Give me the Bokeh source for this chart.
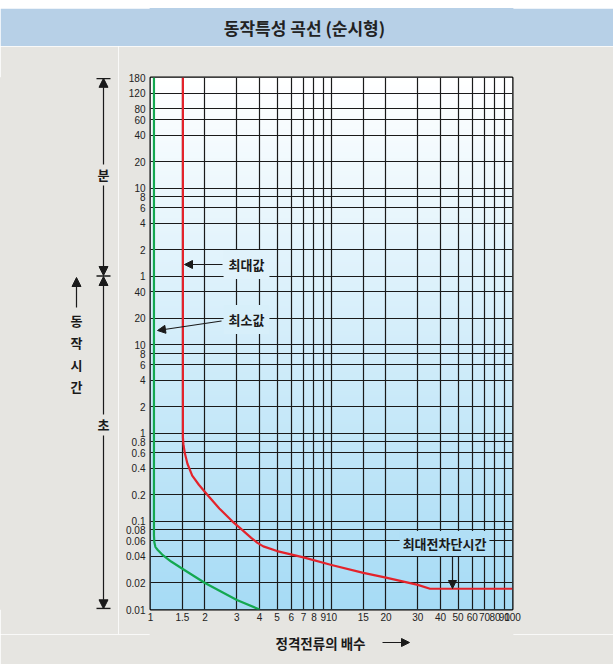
import math
import numpy as np
from bokeh.plotting import figure
from bokeh.models import Range1d, FixedTicker, Label, Arrow, NormalHead, Spacer
from bokeh.layouts import column, row
from bokeh.core.properties import value
from bokeh.embed import file_html
from bokeh.resources import INLINE

# ---------------- data ----------------
TITLE = "동작특성 곡선 (순시형)"
X_LABEL = "정격전류의 배수"
MIN_LABEL = "분"
SEC_LABEL = "초"
TIME_LABEL = "동작시간"

x_ticks = [1, 1.5, 2, 3, 4, 5, 6, 7, 8, 9, 10, 15, 20, 30, 40, 50, 60, 70, 80, 90, 100]
x_tick_labels = ["1", "1.5", "2", "3", "4", "5", "6", "7", "8", "9", "10", "15", "20",
                 "30", "40", "50", "60", "70", "80", "90", "100"]

# seconds ticks and minute ticks (the y axis is time in seconds)
y_ticks_sec = [0.01, 0.02, 0.04, 0.06, 0.08, 0.1, 0.2, 0.4, 0.6, 0.8, 1, 2, 4, 6, 8, 10, 20, 40]
y_labels_sec = ["0.01", "0.02", "0.04", "0.06", "0.08", "0.1", "0.2", "0.4", "0.6", "0.8",
                "1", "2", "4", "6", "8", "10", "20", "40"]
y_ticks_min = [1, 2, 4, 6, 8, 10, 20, 40, 60, 80, 120, 180]
y_labels_min = ["1", "2", "4", "6", "8", "10", "20", "40", "60", "80", "120", "180"]

# maximum curve (red)
max_x = [1.51, 1.51, 1.52, 1.546, 1.6, 1.7, 1.85, 2.06, 2.4, 2.83, 3.21, 3.6, 3.9, 4.2,
         5.0, 7.0, 10, 15, 20, 30, 35, 100]
max_y = [10800, 0.9, 0.75, 0.6, 0.45, 0.33, 0.26, 0.2, 0.14, 0.1, 0.08, 0.065, 0.057, 0.052,
         0.046, 0.039, 0.032, 0.026, 0.023, 0.019, 0.0172, 0.0172]

# minimum curve (green)
min_x = [1.045, 1.045, 1.05, 1.065, 1.1, 1.16, 1.3, 1.5, 2.0, 3.0, 4.0]
min_y = [10800, 0.07, 0.058, 0.051, 0.047, 0.042, 0.035, 0.029, 0.02, 0.0128, 0.01]

# ---------------- style ----------------
KR = "Noto Sans CJK KR"
NUM = "Liberation Sans"
BAND = "#b7d0e7"
GRAY = "#e6e5e1"
INK = "#1a1a1a"
TOP_RGB = (255, 255, 255)
BOT_RGB = (166, 219, 245)

X_MIN, X_MAX = 1, 100
Y_MIN, Y_MAX = 0.01, 10800

W, H = 613, 664
# page geometry (page pixels)
BAND_TOP, BAND_BOT = 8, 46
FL, FR, FT, FB = 150, 512, 77, 609
LEFT_W = 118
CAP_H = 30
LOGSPAN_Y = math.log10(Y_MAX / Y_MIN)


def xd(px):
    return 10 ** ((px - FL) / (FR - FL) * math.log10(X_MAX / X_MIN))


def yd(py):
    return 10 ** (math.log10(Y_MIN) + (FB - py) / (FB - FT) * LOGSPAN_Y)


def grad_hex(py):
    t = min(max((py - FT) / (FB - FT), 0), 1)
    c = [round(TOP_RGB[i] * (1 - t) + BOT_RGB[i] * t) for i in range(3)]
    return "#%02x%02x%02x" % tuple(c)


def head(size=8):
    return NormalHead(size=size, fill_color=INK, line_color=INK)


def bare(fig):
    fig.grid.visible = False
    return fig


# ---------------- title band ----------------
top = figure(width=W, height=BAND_BOT - BAND_TOP, x_range=Range1d(FL, FR), y_range=Range1d(0, 1),
             output_backend="svg", toolbar_location=None,
             min_border_left=FL, min_border_right=W - FR, min_border_top=0, min_border_bottom=0,
             x_axis_location=None, y_axis_location=None,
             background_fill_color=BAND, border_fill_color=BAND,
             outline_line_color=BAND, outline_line_width=2)
bare(top)
top.text(x=[304], y=[0.5], text=[TITLE], text_align="center", text_baseline="middle",
         text_font=value(KR), text_font_size="17px", text_font_style="bold", text_color="#222222")

# ---------------- left margin (time ranges) ----------------
ROW_H = H - BAND_BOT - CAP_H
left = figure(width=LEFT_W, height=ROW_H, x_range=Range1d(0, LEFT_W), y_range=Range1d(FB, FT),
              output_backend="svg", toolbar_location=None,
              min_border_left=0, min_border_right=0,
              min_border_top=FT - BAND_BOT, min_border_bottom=BAND_BOT + ROW_H - FB,
              x_axis_location=None, y_axis_location=None,
              background_fill_color=GRAY, border_fill_color=GRAY,
              outline_line_color=GRAY, outline_line_width=1)
bare(left)


def larrow(x0, y0, x1, y1, size=9):
    left.add_layout(Arrow(x_start=x0, y_start=y0, x_end=x1, y_end=y1, end=head(size),
                          line_color=INK, line_width=1.2))


larrow(103, 164, 103, 77.8)
larrow(103, 185, 103, 275)
larrow(103, 414, 103, 276)
larrow(103, 435, 103, 608.3)
left.segment(x0=[96, 96, 96], y0=[78.2, 275.5, 608.0], x1=[110, 110, 110], y1=[78.2, 275.5, 608.0],
             line_color=INK, line_width=1.3)
larrow(76, 307, 76, 277)


def llabel(txt, x, y):
    left.add_layout(Label(x=x, y=y, text=txt, text_align="center", text_baseline="middle",
                          text_font=KR, text_font_size="13px", text_font_style="bold",
                          text_color=INK))


llabel(MIN_LABEL, 103, 174)
llabel(SEC_LABEL, 103, 424)
for ch, yy in zip(TIME_LABEL, (320, 342, 364, 386)):
    llabel(ch, 76, yy)

# ---------------- main chart ----------------
p = figure(width=W - LEFT_W, height=ROW_H, x_axis_type="log", y_axis_type="log",
           x_range=Range1d(X_MIN, X_MAX), y_range=Range1d(Y_MIN, Y_MAX),
           output_backend="svg", toolbar_location=None,
           min_border_left=FL - LEFT_W, min_border_right=W - FR,
           min_border_top=FT - BAND_BOT, min_border_bottom=BAND_BOT + ROW_H - FB,
           background_fill_color=grad_hex(340), border_fill_color=GRAY,
           outline_line_color="black", outline_line_width=2)

# vertical gradient background
N = 256
img = np.empty((N, 2), dtype=np.uint32)
view = img.view(dtype=np.uint8).reshape((N, 2, 4))
for i in range(N):
    f = i / (N - 1)  # 0 bottom -> 1 top
    for k in range(3):
        view[i, :, k] = round(BOT_RGB[k] * (1 - f) + TOP_RGB[k] * f)
    view[i, :, 3] = 255
p.image_rgba(image=[img], x=X_MIN, y=Y_MIN, dw=X_MAX - X_MIN, dh=Y_MAX - Y_MIN, level="image")

y_ticks = [float(v) for v in y_ticks_sec] + [float(m * 60) for m in y_ticks_min]
y_labels = y_labels_sec + y_labels_min
xt = [float(v) for v in x_ticks]

p.xaxis.ticker = FixedTicker(ticks=xt, minor_ticks=[])
p.yaxis.ticker = FixedTicker(ticks=y_ticks, minor_ticks=[])
p.xaxis.major_label_overrides = {t: l for t, l in zip(xt, x_tick_labels)}
p.yaxis.major_label_overrides = {t: l for t, l in zip(y_ticks, y_labels)}
p.xgrid.ticker = FixedTicker(ticks=xt, minor_ticks=[])
p.ygrid.ticker = FixedTicker(ticks=y_ticks, minor_ticks=[])
p.grid.grid_line_color = INK
p.grid.grid_line_width = 1.2

for ax in (p.xaxis, p.yaxis):
    ax.axis_line_color = None
    ax.major_tick_line_color = None
    ax.minor_tick_line_color = None
    ax.major_tick_out = 0
    ax.major_tick_in = 0
    ax.major_label_text_font = NUM
    ax.major_label_text_font_size = "10px"
    ax.major_label_text_color = "#222222"
p.yaxis.major_label_standoff = 5
p.xaxis.major_label_standoff = 3

p.line(max_x, max_y, line_color="#e3232b", line_width=2.2, line_join="round")
p.line(min_x, min_y, line_color="#14a850", line_width=2.2, line_join="round")


def arrow(x0, y0, x1, y1, size=8):
    p.add_layout(Arrow(x_start=xd(x0), y_start=yd(y0), x_end=xd(x1), y_end=yd(y1),
                       end=head(size), line_color=INK, line_width=1.2))


def label(txt, px, py, bg=None, pad=4):
    p.add_layout(Label(x=xd(px), y=yd(py), text=txt, text_align="center", text_baseline="middle",
                       text_font=KR, text_font_size="13px", text_font_style="bold",
                       text_color=INK, background_fill_color=bg, padding=pad))


arrow(222, 264, 184, 264)
label("최대값", 246, 264, bg=grad_hex(264), pad=5)
arrow(221, 320.5, 157, 330)
label("최소값", 246, 319, bg=grad_hex(319), pad=5)
arrow(452, 550, 452, 588)
label("최대전차단시간", 444, 543, bg=grad_hex(543), pad=3)

# ---------------- x caption ----------------
cap = figure(width=W, height=CAP_H, x_range=Range1d(FL, FR), y_range=Range1d(H, H - CAP_H),
             output_backend="svg", toolbar_location=None,
             min_border_left=FL, min_border_right=W - FR, min_border_top=0, min_border_bottom=0,
             x_axis_location=None, y_axis_location=None,
             background_fill_color=GRAY, border_fill_color=GRAY,
             outline_line_color=GRAY, outline_line_width=2)
bare(cap)
cap.text(x=[320], y=[642], text=[X_LABEL], text_align="center", text_baseline="middle",
         text_font=value(KR), text_font_size="13.5px", text_font_style="bold", text_color=INK)
cap.add_layout(Arrow(x_start=382, y_start=642, x_end=409, y_end=642, end=head(8),
                     line_color=INK, line_width=1.2))

layout = column(Spacer(width=W, height=BAND_TOP), top, row(left, p), cap)
open("out.html", "w").write(file_html(layout, INLINE))
